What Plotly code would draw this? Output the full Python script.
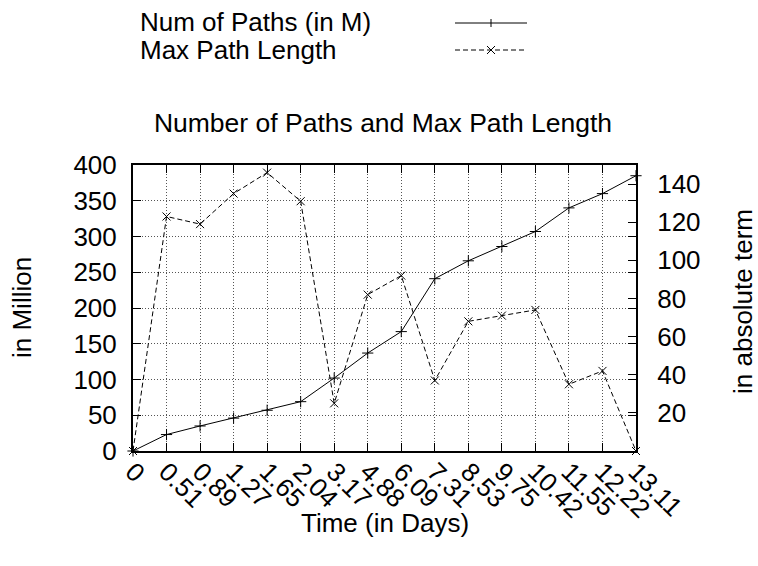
import plotly.graph_objects as go

# ---- data ----
days = ["0", "0.51", "0.89", "1.27", "1.65", "2.04", "3.17", "4.88",
        "6.09", "7.31", "8.53", "9.75", "10.42", "11.55", "12.22", "13.11"]
num_paths = [0, 23, 35, 46, 57, 69, 102, 137, 167, 241, 266, 286, 307, 340, 360, 385]
max_path_len = [0, 123, 119, 135, 146, 131, 25, 82, 92, 37, 68, 71, 74, 35, 42, 0]
left_ticks = [0, 50, 100, 150, 200, 250, 300, 350, 400]
right_ticks = [20, 40, 60, 80, 100, 120, 140]

# ---- layout geometry (pixels) ----
W, H = 758, 566
L, R, T, B = 133, 122, 165, 115
PW, PH = W - L - R, H - T - B
FONT = "Liberation Sans, Arial, Helvetica, sans-serif"
FS = 26


def px(x):
    return (x - L) / PW


def py(y):
    return (H - B - y) / PH


fig = go.Figure()
fig.add_trace(go.Scatter(
    x=days, y=num_paths, name="Num of Paths (in M)", mode="lines+markers",
    line=dict(color="black", width=1),
    marker=dict(symbol="cross-thin", size=8, line=dict(color="black", width=1)),
    cliponaxis=False, showlegend=False))
fig.add_trace(go.Scatter(
    x=days, y=max_path_len, name="Max Path Length", mode="lines+markers",
    yaxis="y2",
    line=dict(color="black", width=1, dash="5px,3px"),
    marker=dict(symbol="x-thin", size=8, line=dict(color="black", width=1)),
    cliponaxis=False, showlegend=False))

grid = dict(showgrid=True, gridcolor="#555555", gridwidth=1, griddash="1px,2px")
axis_common = dict(showline=True, linecolor="black", linewidth=2,
                   ticks="inside", ticklen=8, tickcolor="black", tickwidth=1,
                   zeroline=False,
                   tickfont=dict(family=FONT, size=FS, color="black"))

fig.update_layout(
    width=W, height=H, autosize=False,
    margin=dict(l=L, r=R, t=T, b=B, pad=0),
    paper_bgcolor="white", plot_bgcolor="white",
    font=dict(family=FONT, size=FS, color="black"),
    showlegend=False,
    title=dict(text="Number of Paths and Max Path Length",
               x=383 / W, y=1 - 123 / H, xref="container", yref="container",
               xanchor="center", yanchor="middle",
               font=dict(family=FONT, size=26.5, color="black")),
    xaxis=dict(type="category", tickmode="array", tickvals=days, ticktext=days,
               range=[0, len(days) - 1], tickangle=45, mirror="ticks",
               ticklabelstandoff=-7, **grid, **axis_common),
    yaxis=dict(range=[0, 400], tickmode="array", tickvals=left_ticks,
               mirror="ticks", ticklabelstandoff=9, **grid, **axis_common),
    yaxis2=dict(range=[0, 150], tickmode="array", tickvals=right_ticks,
                overlaying="y", side="right", showgrid=False,
                ticklabelstandoff=14, **axis_common),
)

annotations = [
    dict(text="in Million", x=px(22), y=py(308), textangle=-90),
    dict(text="in absolute term", x=px(743), y=py(302), textangle=-90),
    dict(text="Time (in Days)", x=px(385), y=py(523)),
    dict(text="Num of Paths (in M)", x=px(139), y=py(22), xanchor="left",
         height=28, borderpad=0),
    dict(text="Max Path Length", x=px(139), y=py(50), xanchor="left",
         height=28, borderpad=0),
]
for a in annotations:
    a.setdefault("xanchor", "center")
    fig.add_annotation(xref="paper", yref="paper", yanchor="middle",
                       showarrow=False, font=dict(family=FONT, size=FS, color="black"),
                       **a)

# legend samples (decoration)
sx0, sx1, smid = 455, 527, 491
for yy, dash in [(23, "solid"), (50, "5px,3px")]:
    fig.add_shape(type="line", xref="paper", yref="paper",
                  x0=px(sx0), x1=px(sx1), y0=py(yy), y1=py(yy),
                  line=dict(color="black", width=1, dash=dash))
# '+' marker
fig.add_shape(type="line", xref="paper", yref="paper",
              x0=px(smid), x1=px(smid), y0=py(23 - 4), y1=py(23 + 4),
              line=dict(color="black", width=1))
# 'x' marker
for d in (1, -1):
    fig.add_shape(type="line", xref="paper", yref="paper",
                  x0=px(smid - 4), x1=px(smid + 4), y0=py(50 - 4 * d), y1=py(50 + 4 * d),
                  line=dict(color="black", width=1))

fig.write_html("out.html")
